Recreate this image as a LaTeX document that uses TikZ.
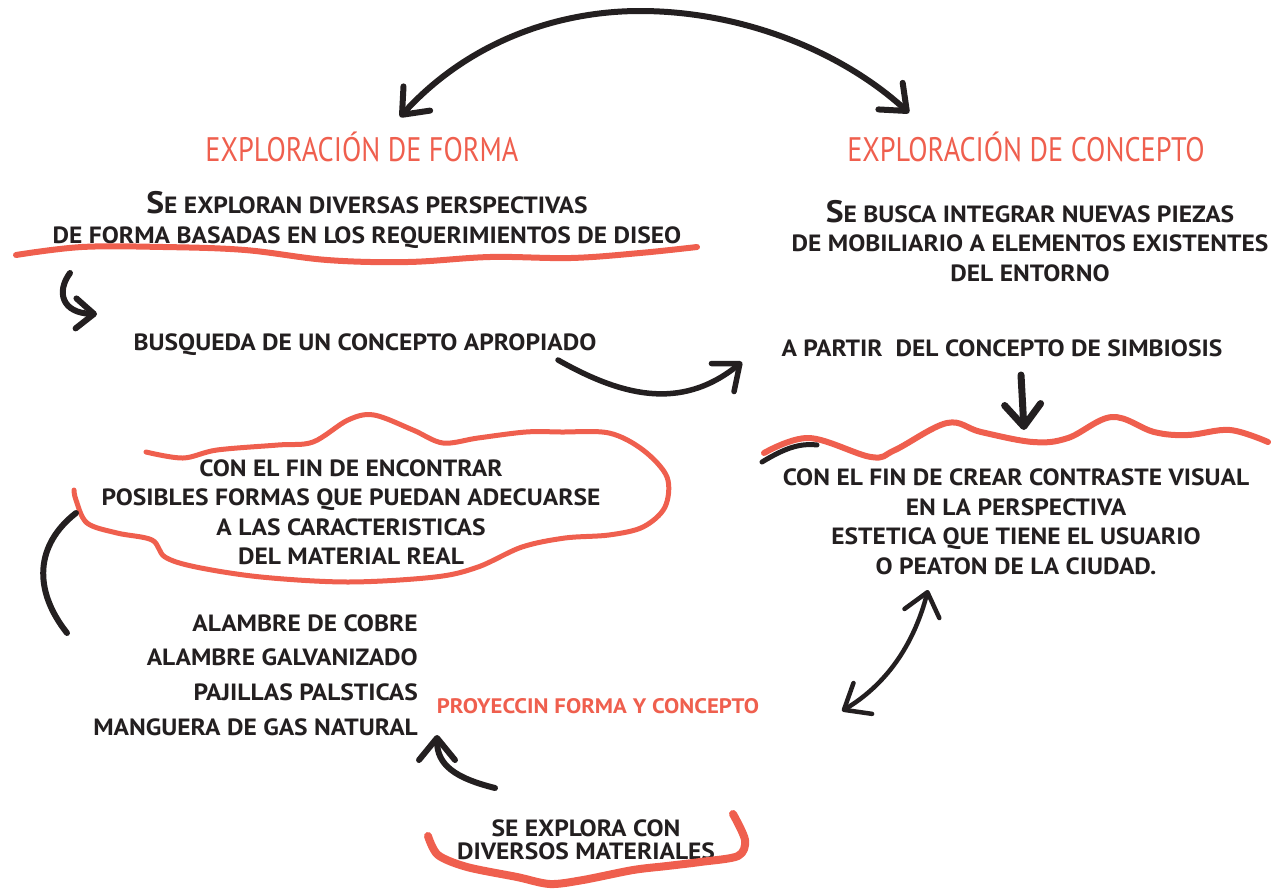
\documentclass[tikz,border=0pt]{standalone}
\usepackage{fontspec}
\setmainfont{PT Sans}
\newfontfamily\bodyfont{PT Sans}[FakeStretch=1.085]
\newfontfamily\titlefont{PT Sans}[FakeStretch=0.83]
\usetikzlibrary{arrows.meta}
\definecolor{brushred}{HTML}{EF5F4E}
\definecolor{ink}{HTML}{231F20}
\tikzset{
  titletext/.style={text=brushred, font=\titlefont\fontsize{34}{40}\selectfont, inner sep=0pt},
  bodytext/.style={text=ink, font=\bodyfont\bfseries\fontsize{23.5}{29.5}\selectfont, align=center, inner sep=0pt},
  redstroke/.style={draw=brushred, line width=6pt, line cap=round, line join=round},
  inkstroke/.style={draw=ink, line width=6pt, line cap=round, line join=round},
  barb/.tip={Straight Barb[length=22pt,width=36pt,round]},
  smallbarb/.tip={Straight Barb[length=18pt,width=30pt,round]},
}
\newcommand{\bigS}{{\fontsize{31}{31}\selectfont S}}
\begin{document}
\begin{tikzpicture}[x=1pt,y=-1pt]
\useasboundingbox (0,0) rectangle (1276,894);

% ---------- text nodes ----------
\node[titletext] (tforma) at (362,147) {EXPLORACIÓN DE FORMA};
\node[titletext] (tconcepto) at (1026,147) {EXPLORACIÓN DE CONCEPTO};

\node[bodytext] (bforma) at (367,220) {\bigS E EXPLORAN DIVERSAS PERSPECTIVAS\\DE FORMA BASADAS EN LOS REQUERIMIENTOS DE DISEO};
\node[bodytext] (bconcepto) at (1030,241) {\bigS E BUSCA INTEGRAR NUEVAS PIEZAS\\DE MOBILIARIO A ELEMENTOS EXISTENTES\\DEL ENTORNO};

\node[bodytext] (busq) at (365,345) {BUSQUEDA DE UN CONCEPTO APROPIADO};
\node[bodytext] (simb) at (1002,348) {A PARTIR\ \ DEL CONCEPTO DE SIMBIOSIS};

\node[bodytext] (fin) at (351,512) {CON EL FIN DE ENCONTRAR\\POSIBLES FORMAS QUE PUEDAN ADECUARSE\\A LAS CARACTERISTICAS\\DEL MATERIAL REAL};
\node[bodytext] (contraste) at (1016,522) {CON EL FIN DE CREAR CONTRASTE VISUAL\\EN LA PERSPECTIVA\\ESTETICA QUE TIENE EL USUARIO\\O PEATON DE LA CIUDAD.};

\node[bodytext, align=right, anchor=east, font=\bodyfont\bfseries\fontsize{23.5}{34.7}\selectfont] (lista) at (418,675)
  {ALAMBRE DE COBRE\\ALAMBRE GALVANIZADO\\PAJILLAS PALSTICAS\\MANGUERA DE GAS NATURAL};

\node[bodytext, text=brushred, font=\bodyfont\bfseries\fontsize{21}{25}\selectfont] (proy) at (598,706) {PROYECCIN FORMA Y CONCEPTO};

\node[bodytext, font=\bodyfont\bfseries\fontsize{23.5}{23.5}\selectfont] (materiales) at (586,840) {SE EXPLORA CON\\DIVERSOS MATERIALES};

% ---------- red hand-drawn strokes ----------
\draw[redstroke] plot[smooth, tension=0.6] coordinates {(16,255) (82,247) (163,247) (245,250) (327,260) (408,262) (490,257) (571,258) (640,253) (697,247)};

\draw[redstroke, line width=5pt] plot[smooth, tension=0.55] coordinates {
 (146,452) (183,458) (217,450) (278,445) (313,442) (348,420) (374,415) (413,430) (443,443)
 (478,438) (526,432) (561,432) (609,433) (643,450) (667,477) (665,507) (643,527) (609,535)
 (565,538) (522,547) (478,567) (435,577) (348,582) (261,577) (196,567) (165,557) (152,540)
 (117,533) (87,523) (76,500) (74,490)};

\draw[redstroke] plot[smooth, tension=0.6] coordinates {
 (764,453) (809,438) (871,457) (895,450) (947,423) (981,432) (1033,442) (1068,438)
 (1112,417) (1154,432) (1188,435) (1230,430) (1268,442)};

\draw[redstroke, line width=8pt] plot[smooth, tension=0.5] coordinates {
 (428,836) (438,855) (467,867) (517,877) (550,884) (583,880) (633,870) (667,866) (700,862)
 (738,856) (745,840) (733,814)};

% ---------- black connectors ----------
\coordinate (arcL) at (400,117);
\coordinate (arcTop) at (640,11);
\coordinate (arcR) at (909,113);
\draw[inkstroke, {barb}-{barb}] (arcL) .. controls (470,40) and (560,11) .. (arcTop)
   .. controls (740,11) and (840,50) .. (arcR);

\coordinate (hookS) at (70,273);
\coordinate (hookE) at (97,314);
\draw[inkstroke, -{smallbarb}] (hookS) .. controls (56,292) and (62,313) .. (hookE);

\coordinate (busqS) at (558,360);
\coordinate (busqE) at (742,362);
\draw[inkstroke, line width=5.5pt, -{barb}] (busqS) .. controls (620,395) and (680,412) .. (busqE);

\coordinate (simbS) at (1021,375);
\coordinate (simbE) at (1024,430);
\draw[inkstroke, line width=7pt, -{barb}] (simbS) -- (simbE);

\coordinate (dblT) at (928,590);
\coordinate (dblB) at (842,711);
\draw[inkstroke, line width=4.5pt, {barb}-{barb}] (dblT) .. controls (915,640) and (890,682) .. (dblB);

\coordinate (matS) at (495,788);
\coordinate (matE) at (437,735);
\draw[inkstroke, -{barb}] (matS) .. controls (455,778) and (437,765) .. (matE);

\coordinate (leftS) at (76,513);
\coordinate (leftE) at (67,633);
\draw[inkstroke] (leftS) .. controls (35,545) and (33,590) .. (leftE);

\coordinate (rightS) at (762,462);
\coordinate (rightE) at (817,445);
\draw[inkstroke, line width=5pt] (rightS) .. controls (785,448) and (800,443) .. (rightE);
\end{tikzpicture}
\end{document}
